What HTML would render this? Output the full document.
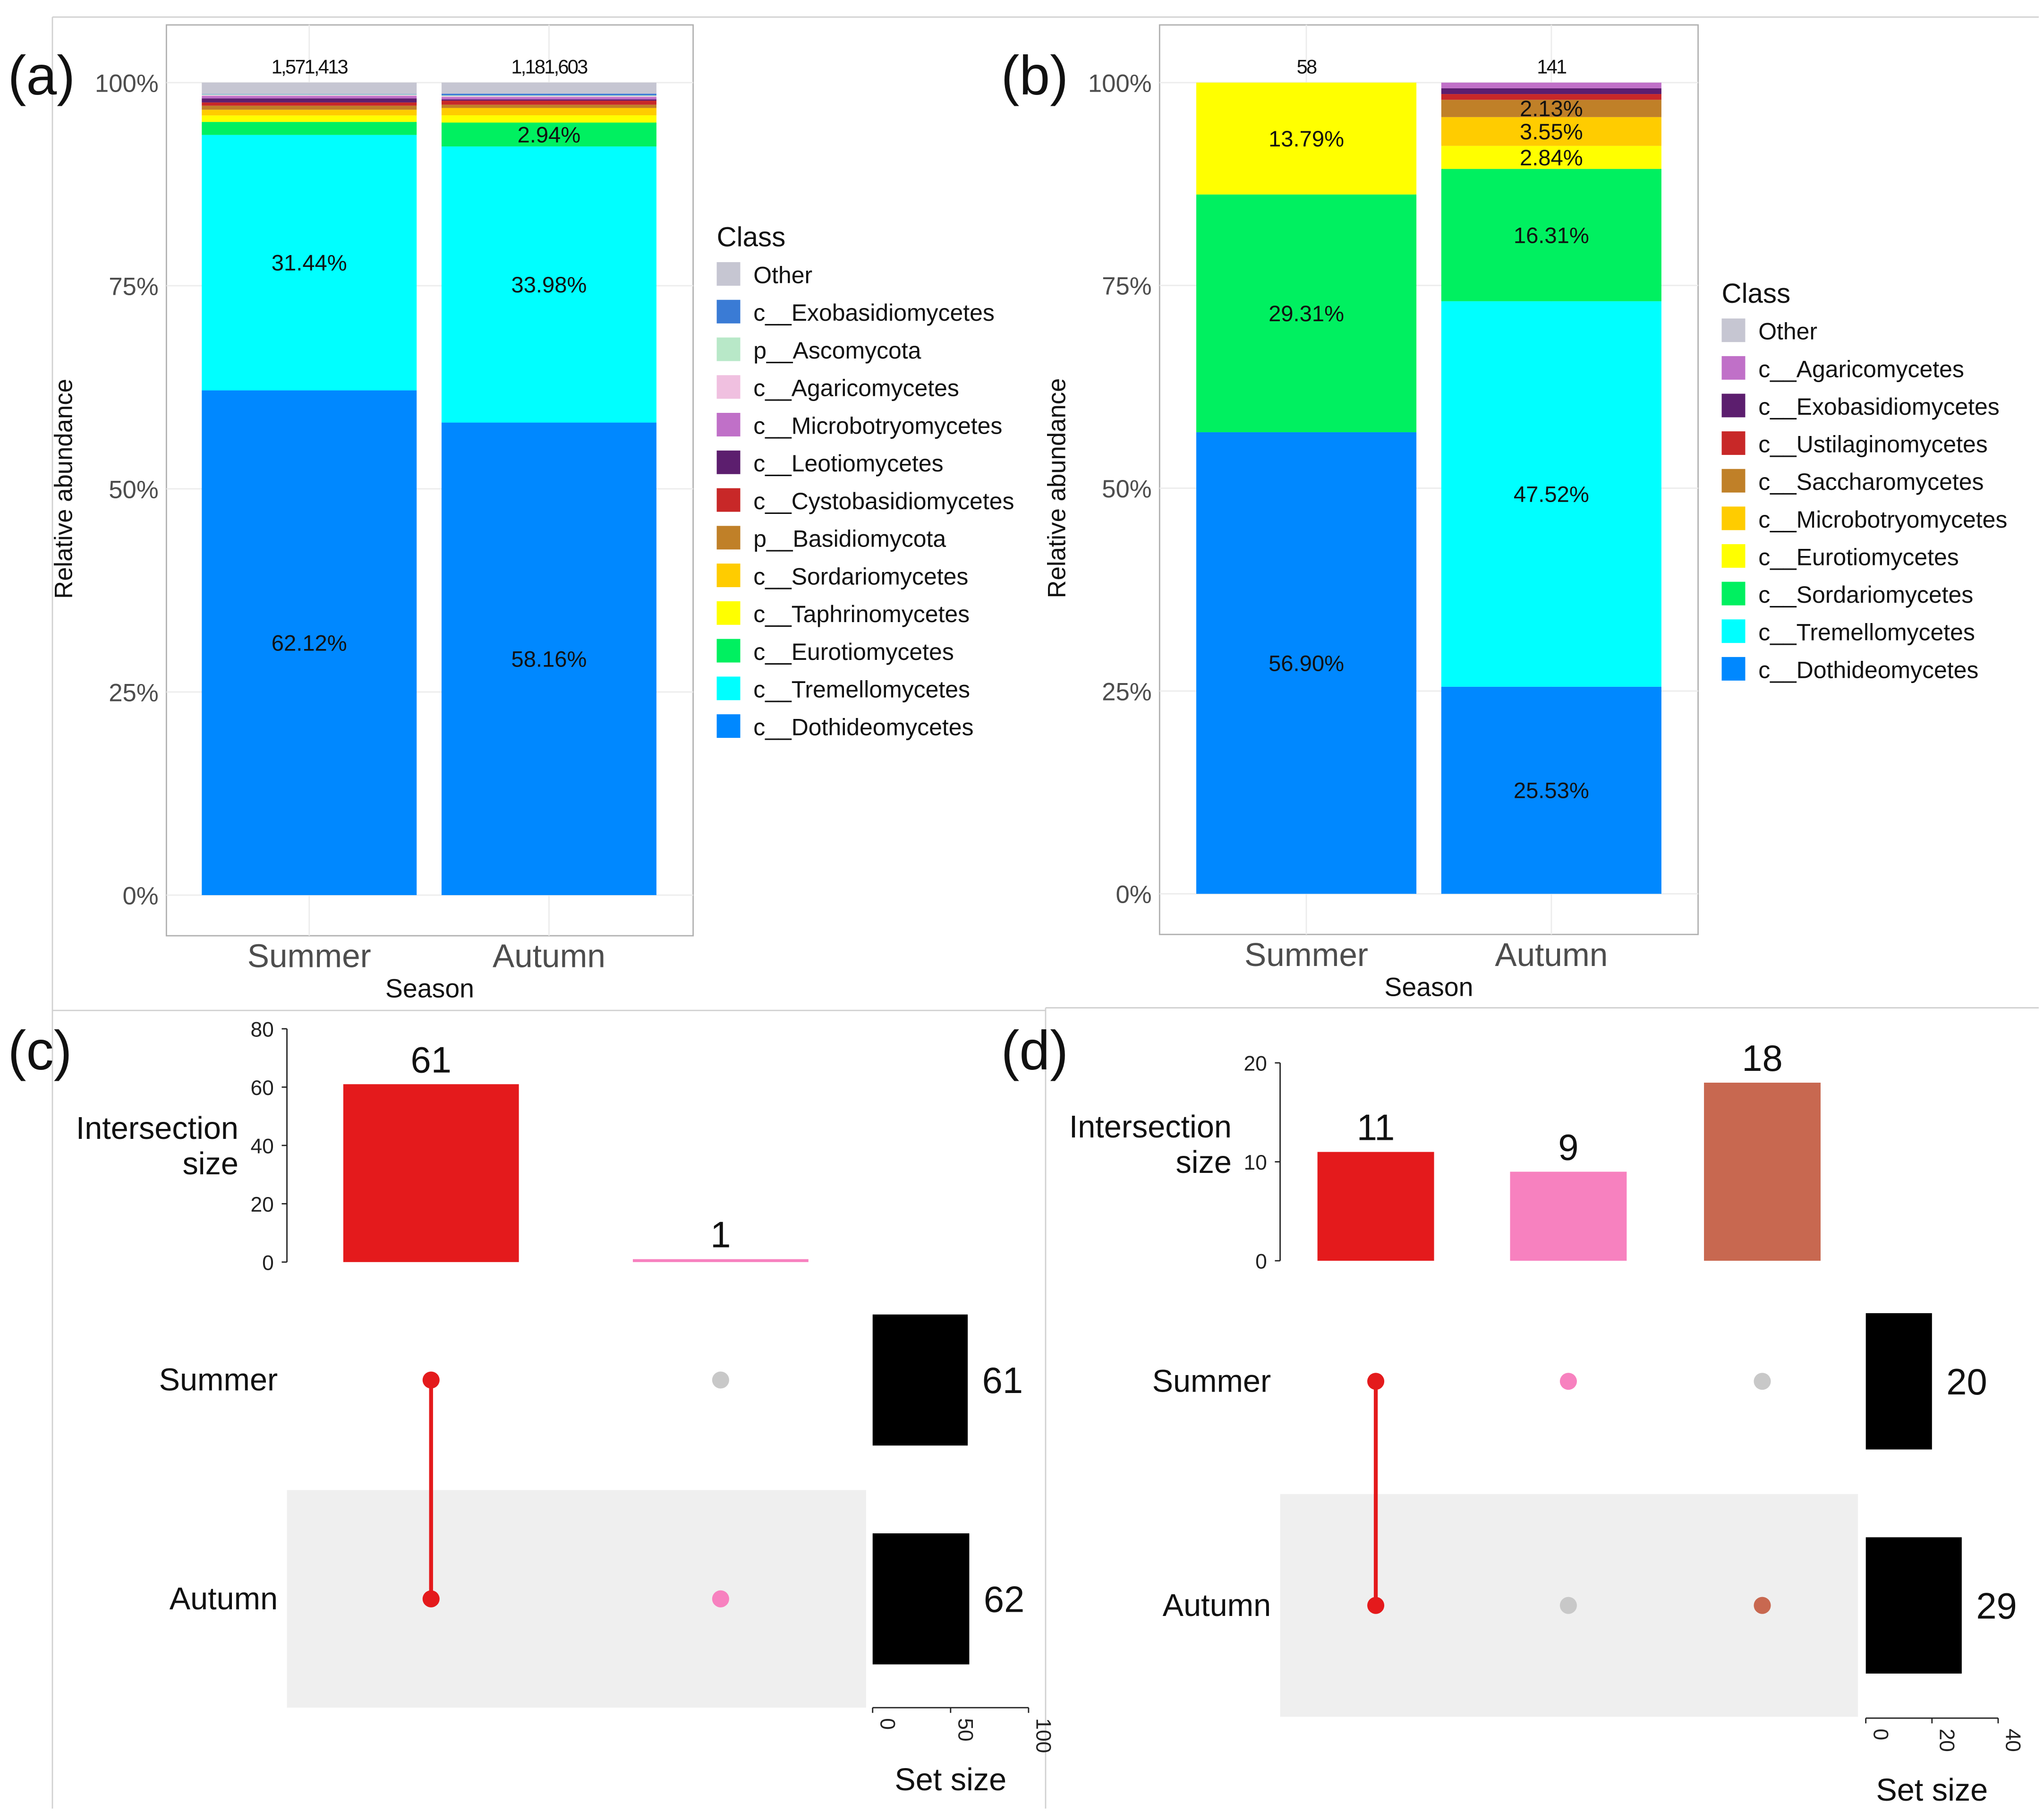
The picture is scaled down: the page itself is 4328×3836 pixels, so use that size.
<!DOCTYPE html>
<html><head><meta charset="utf-8"><style>
html,body{margin:0;padding:0;background:#fff}
svg{display:block;font-family:"Liberation Sans",sans-serif}
</style></head><body>
<svg id="fig" width="4328" height="3836" viewBox="0 0 1560 1382.6" xmlns="http://www.w3.org/2000/svg">
<g stroke="#d0d0d0" stroke-width="1" fill="none">
<line x1="40" y1="13" x2="1556" y2="13"/><line x1="40" y1="13" x2="40" y2="1380"/>
<line x1="40" y1="771" x2="798" y2="771"/><line x1="798" y1="769" x2="1556" y2="769"/>
<line x1="798" y1="769" x2="798" y2="1380"/>
</g>
<g id="pa"></g>
<g id="pb"></g>
<g id="pc"></g>
<g id="pd"></g>
</svg>
<script>
// ---- Panel (a) data ----
const aClasses = ["c__Dothideomycetes","c__Tremellomycetes","c__Eurotiomycetes","c__Taphrinomycetes","c__Sordariomycetes","p__Basidiomycota","c__Cystobasidiomycetes","c__Leotiomycetes","c__Microbotryomycetes","c__Agaricomycetes","p__Ascomycota","c__Exobasidiomycetes","Other"];
const aColors = ["#0088ff","#00ffff","#00f060","#ffff00","#ffcc00","#c08028","#c82828","#5c1e6e","#c070c8","#f0c0e0","#b8e8c8","#3a7bd5","#c6c6d2"];
const aSeasons = ["Summer","Autumn"];
const aSummer = [62.12,31.44,1.6,0.8,0.7,0.5,0.4,0.5,0.3,0.1,0.1,0.04,1.4];
const aAutumn = [58.16,33.98,2.94,0.9,0.9,0.4,0.5,0.15,0.3,0.1,0.1,0.2,1.37];
const aTotals = ["1,571,413","1,181,603"];
// ---- Panel (b) data ----
const bClasses = ["c__Dothideomycetes","c__Tremellomycetes","c__Sordariomycetes","c__Eurotiomycetes","c__Microbotryomycetes","c__Saccharomycetes","c__Ustilaginomycetes","c__Exobasidiomycetes","c__Agaricomycetes","Other"];
const bColors = ["#0088ff","#00ffff","#00f060","#ffff00","#ffcc00","#c08028","#c82828","#5c1e6e","#c070c8","#c6c6d2"];
const bSummer = [56.90,0,29.31,13.79,0,0,0,0,0,0];
const bAutumn = [25.53,47.52,16.31,2.84,3.55,2.13,0.71,0.71,0.70,0];
const bTotals = ["58","141"];
// ---- Panel (c) data ----
const cInter = [61,1];
const cInterTicks = [0,20,40,60,80];
const cSets = [61,62];
const cSetTicks = [0,50,100];
// ---- Panel (d) data ----
const dInter = [11,9,18];
const dInterTicks = [0,10,20];
const dSets = [20,29];
const dSetTicks = [0,20,40];

const NS="http://www.w3.org/2000/svg";
function mk(parent,tag,attrs,text){const e=document.createElementNS(NS,tag);for(const k in attrs)e.setAttribute(k,attrs[k]);if(text!==undefined)e.textContent=text;parent.appendChild(e);return e;}

function stacked(g,o){
  const fr=mk(g,'rect',{x:o.x0,y:o.y0,width:o.x1-o.x0,height:o.y1-o.y0,fill:'none',stroke:'#b0b0b0','stroke-width':1});
  
  
  const Y=v=>o.yb-(o.yb-o.yt)*v/100;
  [0,25,50,75,100].forEach(t=>{
    const l=mk(g,'line',{x1:o.x0,x2:o.x1,y1:Y(t),y2:Y(t),stroke:'#ececec','stroke-width':1});
    
    
    const tl=mk(g,'text',{x:o.x0-6,y:Y(t)+7,'text-anchor':'end','font-size':19,fill:'#4d4d4d'},t+'%');
    
    
  });
  const yt=mk(g,'text',{x:0,y:0,'font-size':19,fill:'#111','text-anchor':'middle',transform:`translate(${o.x0-72},${(o.yt+o.yb)/2}) rotate(-90)`},'Relative abundance');
  
  
  o.series.forEach((vals,i)=>{
    const bx=o.bx[i], bw=o.bw;
    const cx=bx+bw/2;
    const vl=mk(g,'line',{x1:cx,x2:cx,y1:o.y0,y2:o.y1,stroke:'#ececec'});
    
    
    let cum=0;
    vals.forEach((v,k)=>{
      if(v<=0)return;
      const r=mk(g,'rect',{x:bx,y:Y(cum+v),width:bw,height:Y(cum)-Y(cum+v),fill:o.colors[k]});
      
      
      if(v>=2){
        const t=mk(g,'text',{x:cx,y:(Y(cum)+Y(cum+v))/2+6,'text-anchor':'middle','font-size':17,fill:'#111'},v.toFixed(2)+'%');
        
        
      }
      cum+=v;
    });
    if(cum<100){
      const r=mk(g,'rect',{x:bx,y:Y(100),width:bw,height:Y(cum)-Y(100),fill:o.colors[o.colors.length-1]});
      
      
    }
    const tt=mk(g,'text',{x:cx,y:o.yt-7,'text-anchor':'middle','font-size':15,fill:'#111','letter-spacing':'-1'},o.totals[i]);
    
    
    const xl=mk(g,'text',{x:cx,y:o.y1+24,'text-anchor':'middle','font-size':25,fill:'#4d4d4d'},aSeasons[i]);
    
    
  });
  const xt=mk(g,'text',{x:(o.x0+o.x1)/2,y:o.y1+47,'text-anchor':'middle','font-size':20,fill:'#111'},'Season');
  
  
  const pl=mk(g,'text',{x:o.px,y:o.py,'font-size':42,fill:'#111'},o.plabel);
  
  
  const lt=mk(g,'text',{x:o.lx,y:o.ly,'font-size':21,fill:'#111'},'Class');
  
  
  o.legend.forEach((name,j)=>{
    const yy=o.ly+21+j*o.lstep;
    const ci=o.classes.indexOf(name);
    const sq=mk(g,'rect',{x:o.lx,y:yy-9,width:18,height:18,fill:o.colors[ci]});
    
    
    const tx=mk(g,'text',{x:o.lx+28,y:yy+7,'font-size':18,fill:'#111'},name);
    
    
  });
}
stacked(document.getElementById('pa'),{x0:127,x1:529,y0:19,y1:714,yb:683,yt:63,bx:[154,337],bw:164,series:[aSummer,aAutumn],
  colors:aColors,classes:aClasses,totals:aTotals,plabel:'(a)',px:6,py:72,lx:547,ly:188,lstep:28.75,
  legend:aClasses.slice().reverse()});
stacked(document.getElementById('pb'),{x0:885,x1:1296,y0:19,y1:713,yb:682,yt:63,bx:[913,1100],bw:168,series:[bSummer,bAutumn],
  colors:bColors,classes:bClasses,totals:bTotals,plabel:'(b)',px:764,py:72,lx:1314,ly:231,lstep:28.7,
  legend:bClasses.slice().reverse()});

function upset(g,o){
  const Yi=v=>o.ib-(o.ib-o.it)*v/o.imax;
  const ax=mk(g,'line',{x1:o.ax,x2:o.ax,y1:Yi(o.imax),y2:o.ib,stroke:'#222','stroke-width':1});
  
  
  o.iticks.forEach(t=>{
    mk(g,'line',{x1:o.ax-4,x2:o.ax,y1:Yi(t),y2:Yi(t),stroke:'#222'});
    const tl=mk(g,'text',{x:o.ax-10,y:Yi(t)+6,'text-anchor':'end','font-size':16,fill:'#222'},t);
    
    
  });
  const t1=mk(g,'text',{x:o.itx,y:o.ity,'text-anchor':'end','font-size':24,fill:'#111'},'Intersection');
  
  
  const t2=mk(g,'text',{x:o.itx2,y:o.ity+27,'text-anchor':'end','font-size':24,fill:'#111'},'size');
  
  
  const sh=mk(g,'rect',{x:o.ax,y:o.shy0,width:o.shx1-o.ax,height:o.shy1-o.shy0,fill:'#efefef'});
  
  
  o.inter.forEach((v,i)=>{
    const cx=o.cols[i];
    const b=mk(g,'rect',{x:cx-o.bw/2,y:Yi(v),width:o.bw,height:Math.max(o.ib-Yi(v),2),fill:o.icol[i]});
    
    
    const l=mk(g,'text',{x:cx,y:Yi(v)-9,'text-anchor':'middle','font-size':28,fill:'#111'},v);
    
    
    const m=o.members[i];
    const ys=[];
    o.rows.forEach((ry,r)=>{ if(m[r]) ys.push(ry); });
    if(ys.length>1){
      const ln=mk(g,'line',{x1:cx,x2:cx,y1:Math.min(...ys),y2:Math.max(...ys),stroke:o.icol[i],'stroke-width':3});
      
      
    }
    o.rows.forEach((ry,r)=>{
      const d=mk(g,'circle',{cx:cx,cy:ry,r:6.5,fill:m[r]?o.icol[i]:'#c8c8c8'});
      
      
    });
  });
  const Xs=v=>o.sx0+(o.sx1-o.sx0)*v/o.smax;
  ['Summer','Autumn'].forEach((n,r)=>{
    const rl=mk(g,'text',{x:o.rlx,y:o.rows[r]+8,'text-anchor':'end','font-size':24,fill:'#111'},n);
    
    
    const b=mk(g,'rect',{x:o.sx0,y:o.sby[r],width:Xs(o.sets[r])-o.sx0,height:o.sbh,fill:'#000'});
    
    
    const v=mk(g,'text',{x:Xs(o.sets[r])+11,y:o.rows[r]+10,'font-size':28,fill:'#111'},o.sets[r]);
    
    
  });
  const sa=mk(g,'line',{x1:o.sx0,x2:o.sx1,y1:o.say,y2:o.say,stroke:'#222'});
  
  
  o.sticks.forEach(t=>{
    mk(g,'line',{x1:Xs(t),x2:Xs(t),y1:o.say,y2:o.say+4,stroke:'#222'});
    const tl=mk(g,'text',{x:0,y:0,'font-size':16,fill:'#222',transform:`translate(${Xs(t)+6},${o.say+8}) rotate(90)`},t);
    
    
  });
  const st=mk(g,'text',{x:(o.sx0+o.sx1)/2,y:o.say+63,'text-anchor':'middle','font-size':24,fill:'#111'},'Set size');
  
  
  const pl=mk(g,'text',{x:o.px,y:816,'font-size':42,fill:'#111'},o.plabel);
  
  
}
upset(document.getElementById('pc'),{ax:219,ib:963,it:785,imax:80,iticks:cInterTicks,itx:182,itx2:182,ity:869,
  shy0:1137,shy1:1303,shx1:661,inter:cInter,cols:[329,550],bw:134,icol:['#e41a1c','#f781bf'],
  members:[[1,1],[0,1]],rows:[1053,1220],rlx:212,sets:cSets,sx0:666,sx1:785,smax:100,sby:[1003,1170],sbh:100,
  say:1303,sticks:cSetTicks,plabel:'(c)',px:6});
upset(document.getElementById('pd'),{ax:977,ib:962,it:811,imax:20,iticks:dInterTicks,itx:940,itx2:940,ity:868,
  shy0:1140,shy1:1310,shx1:1418,inter:dInter,cols:[1050,1197,1345],bw:89,icol:['#e41a1c','#f781bf','#c86850'],
  members:[[1,1],[1,0],[0,1]],rows:[1054,1225],rlx:970,sets:dSets,sx0:1424,sx1:1525,smax:40,sby:[1002,1173],sbh:104,
  say:1311,sticks:dSetTicks,plabel:'(d)',px:764});
</script>
</body></html>
